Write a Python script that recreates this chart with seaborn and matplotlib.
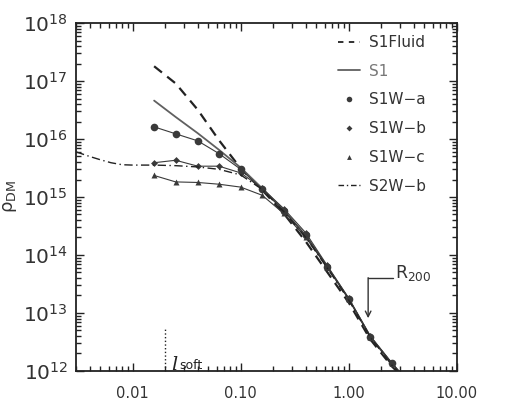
import numpy as np
import pandas as pd
import matplotlib
matplotlib.use("Agg")
import matplotlib.pyplot as plt
from matplotlib import ticker
from matplotlib.lines import Line2D
import seaborn as sns

# radios (en unidades de R) y densidades
r = [0.0158, 0.025, 0.04, 0.063, 0.1, 0.158, 0.25, 0.4, 0.63, 1.0, 1.58, 2.5, 4.0]
s1fluid = [1.8e17, 9.1e16, 3.2e16, 9.5e15, 3.1e15, 1.32e15, 5.2e14, 1.7e14, 5.1e13, 1.5e13, 3.5e12, 1.2e12, 5e11]
s1 = [4.6e16, 2.4e16, 1.26e16, 6.5e15, 3.2e15, 1.41e15, 5.9e14, 2.1e14, 6.3e13, 1.74e13, 3.9e12, 1.32e12, 5e11]
s1w_a = [1.62e16, 1.23e16, 9.3e15, 5.6e15, 3.0e15, 1.35e15, 5.8e14, 2.2e14, 6.3e13, 1.74e13, 3.9e12, 1.35e12, 5e11]
s1w_b = [3.9e15, 4.3e15, 3.4e15, 3.4e15, 2.6e15, 1.41e15, 6.3e14, 2.4e14, 6.6e13, 1.78e13, 4.0e12, 1.38e12, 5e11]
s1w_c = [2.35e15, 1.82e15, 1.78e15, 1.66e15, 1.48e15, 1.07e15, 5.2e14, 2.0e14, 6.3e13, 1.74e13, 3.9e12, 1.35e12, 5e11]

r2 = [0.003, 0.004, 0.005, 0.0063, 0.008, 0.01, 0.0158, 0.025, 0.04, 0.063, 0.1, 0.158, 0.25, 0.4, 0.63, 1.0, 1.58, 2.5, 4.0]
s2w_b = [6.0e15, 5.0e15, 4.4e15, 3.9e15, 3.6e15, 3.55e15, 3.55e15, 3.47e15, 3.3e15, 3.0e15, 2.4e15, 1.35e15, 5.6e14, 2.0e14, 6.0e13, 1.66e13, 3.8e12, 1.26e12, 5e11]

etiquetas = ['S1Fluid', 'S1', 'S1W\u2212a', 'S1W\u2212b', 'S1W\u2212c', 'S2W\u2212b']
xticks = [0.01, 0.1, 1, 10]
xtick_labels = ['0.01', '0.10', '1.00', '10.00']
yticks = [1e12, 1e13, 1e14, 1e15, 1e16, 1e17, 1e18]

l_soft = 0.02
r200 = 1.51

sns.set_style('ticks')
plt.rcParams['font.family'] = ['DejaVu Sans']
plt.rcParams['mathtext.fontset'] = 'dejavusans'

fig = plt.figure(figsize=(5.18, 4.2), dpi=100)
ax = fig.add_axes([0.147, 0.117, 0.735, 0.828])
ax.set_xscale('log')
ax.set_yscale('log')

gris = '#3a3a3a'

sns.lineplot(x=r, y=s1fluid, ax=ax, color='#222222', lw=1.6, linestyle=(0, (4.5, 3)), estimator=None, sort=False)
sns.lineplot(x=r, y=s1, ax=ax, color='#606060', lw=1.3, estimator=None, sort=False)
sns.lineplot(x=r, y=s1w_a, ax=ax, color=gris, lw=0.8, marker='o', markersize=5.5, markeredgecolor='none', estimator=None, sort=False)
sns.lineplot(x=r, y=s1w_b, ax=ax, color=gris, lw=0.8, marker='D', markersize=3.5, markeredgecolor='none', estimator=None, sort=False)
sns.lineplot(x=r, y=s1w_c, ax=ax, color=gris, lw=0.8, marker='^', markersize=4.5, markeredgecolor='none', estimator=None, sort=False)
sns.lineplot(x=r2, y=s2w_b, ax=ax, color='#222222', lw=1.0, linestyle=(0, (6, 2.5, 1, 2.5)), estimator=None, sort=False)

ax.set_xlim(0.003, 10)
ax.set_ylim(1e12, 1e18)

# ejes estilo IDL
ax.xaxis.set_major_locator(ticker.FixedLocator(xticks))
ax.xaxis.set_major_formatter(ticker.FixedFormatter(xtick_labels))
ax.xaxis.set_minor_locator(ticker.LogLocator(base=10, subs=np.arange(2, 10), numticks=20))
ax.xaxis.set_minor_formatter(ticker.NullFormatter())
ax.yaxis.set_major_locator(ticker.FixedLocator(yticks))
ax.yaxis.set_major_formatter(ticker.FuncFormatter(lambda v, p: r'$\mathregular{10^{%d}}$' % round(np.log10(v))))
ax.yaxis.set_minor_locator(ticker.LogLocator(base=10, subs=np.arange(2, 10), numticks=20))
ax.yaxis.set_minor_formatter(ticker.NullFormatter())
ax.tick_params(which='both', direction='in', top=True, right=True, color='#222222', width=1.0)
ax.tick_params(which='major', length=6)
ax.tick_params(which='minor', length=3.5)
ax.tick_params(axis='x', which='major', labelsize=10.5, pad=11, labelcolor='#333333')
ax.tick_params(axis='y', which='major', labelsize=14.5, pad=6, labelcolor='#333333')
for s in ax.spines.values():
    s.set_linewidth(1.3)
    s.set_color('#222222')

ax.set_ylabel(r'$\mathregular{\rho_{DM}}$', fontsize=13, color='#333333', labelpad=3)

# l_soft
ax.plot([l_soft, l_soft], [1e12, 5.7e12], color='#222222', lw=1, linestyle=':')
ax.text(0.0226, 1.03e12, 'l', fontfamily='DejaVu Serif', style='italic', fontsize=14,
        color='#222222', ha='left', va='baseline')
ax.text(0.0272, 1.07e12, 'soft', fontsize=9, color='#222222', ha='left', va='baseline')

# R200
ax.plot([r200, 2.55], [4e13, 4e13], color='#333333', lw=1)
ax.annotate('', xy=(r200, 8.1e12), xytext=(r200, 4.05e13),
            arrowprops=dict(arrowstyle='->', color='#333333', lw=1, shrinkA=0, shrinkB=0))
ax.text(2.65, 4.9e13, r'$\mathregular{R_{200}}$', fontsize=12.5, color='#333333', ha='left', va='center')

# leyenda
handles = [
    Line2D([], [], color='#222222', lw=1.3, linestyle=(0, (3, 3))),
    Line2D([], [], color='#606060', lw=1.3),
    Line2D([], [], color=gris, linestyle='none', marker='o', markersize=4, markeredgecolor='none'),
    Line2D([], [], color=gris, linestyle='none', marker='D', markersize=3, markeredgecolor='none'),
    Line2D([], [], color=gris, linestyle='none', marker='^', markersize=3.5, markeredgecolor='none'),
    Line2D([], [], color='#222222', lw=1.0, linestyle=(0, (4, 2, 1, 2))),
]
leg = ax.legend(handles, etiquetas, loc='upper left', bbox_to_anchor=(338 / 518, 1 - 35 / 420),
                bbox_transform=fig.transFigure, frameon=False, fontsize=11, handlelength=1.45,
                handletextpad=0.55, labelspacing=0.9, borderpad=0, borderaxespad=0, numpoints=1)
for i, t in enumerate(leg.get_texts()):
    t.set_color('#777777' if i == 1 else '#333333')

fig.savefig('out.png', dpi=100)
